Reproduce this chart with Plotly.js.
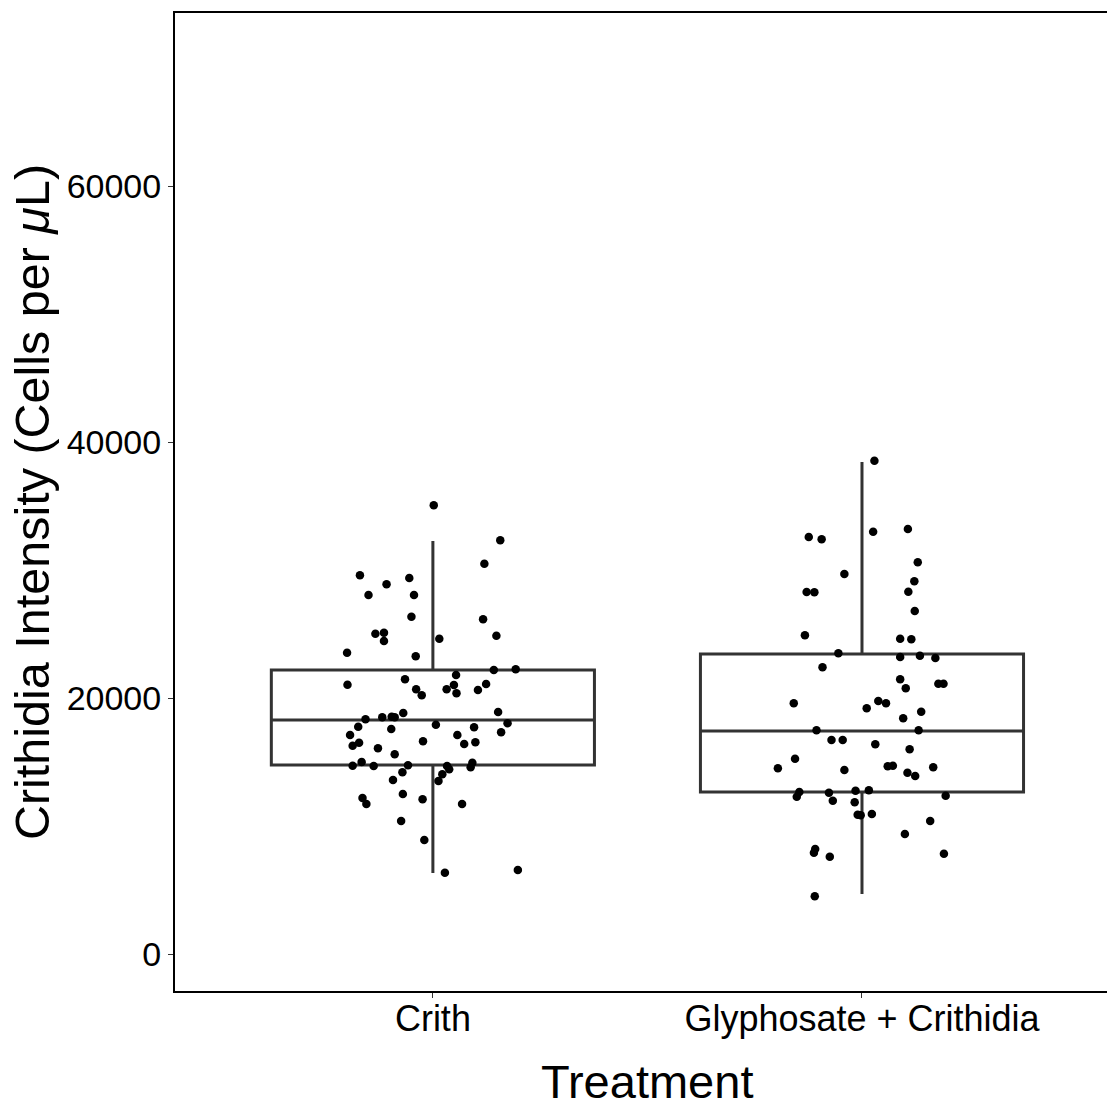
<!DOCTYPE html>
<html>
<head>
<meta charset="utf-8">
<script src="https://cdn.plot.ly/plotly-3.0.1.min.js"></script>
<style>html,body{margin:0;padding:0;background:#fff;overflow:hidden}#chart{width:1107px;height:1109px}</style>
</head>
<body>
<div id="chart"></div>
<script>
// Categories and tick labels
const categories = ["Crith", "Glyphosate + Crithidia"];
const categoryIndex = [1, 2];

// Box statistics (cells per µL)
const boxQ1 = [14766, 12656];
const boxMedian = [18281, 17422];
const boxQ3 = [22188, 23438];
const boxLower = [6328, 4688];
const boxUpper = [32266, 38438];

// Jittered observations: horizontal jitter offsets (category units) and values
const crithJitter = [0.002,0.157,0.120,-0.170,-0.055,-0.108,-0.150,-0.044,-0.050,0.117,-0.134,-0.114,-0.114,0.015,0.148,-0.200,-0.040,-0.065,0.054,0.142,0.193,-0.199,-0.039,-0.026,0.032,0.049,0.055,0.105,0.124,0.152,0.174,0.159,-0.069,-0.096,-0.089,-0.118,-0.157,-0.174,-0.097,0.007,0.096,0.057,-0.193,-0.172,-0.187,-0.023,0.073,0.099,-0.128,-0.089,-0.166,-0.187,-0.138,-0.058,-0.071,-0.093,0.033,0.038,0.022,0.013,0.092,0.088,-0.164,-0.155,-0.070,-0.024,0.068,-0.074,-0.020,0.028,0.198];
const crithValues = [35055,32320,30492,29586,29375,28883,28047,28047,26352,26148,25023,25102,24453,24633,24867,23539,23258,21461,21797,22188,22242,21039,20680,20211,20680,21016,20367,20625,21094,18906,18023,17320,18828,18539,18492,18492,18336,17758,17578,17914,17711,17109,17109,16508,16273,16617,16406,16539,16070,15602,15000,14711,14688,14742,14195,13594,14688,14430,14039,13516,14945,14586,12188,11719,12500,12086,11719,10391,8906,6352,6563];

const glyJitter = [0.029,0.026,0.107,-0.124,-0.094,0.130,-0.041,0.122,-0.129,-0.111,0.108,0.123,-0.133,0.089,0.115,-0.055,0.089,0.135,0.171,-0.092,0.089,0.102,0.178,0.190,-0.159,0.038,0.056,0.011,0.138,0.096,-0.106,0.132,-0.071,-0.045,0.031,0.111,-0.156,-0.196,-0.041,0.060,0.072,0.166,0.106,0.124,-0.146,-0.152,-0.077,-0.068,-0.015,0.016,-0.017,0.195,-0.010,-0.003,0.023,0.159,0.100,-0.109,-0.112,-0.075,0.191,-0.110];
const glyValues = [38539,32992,33203,32578,32398,30602,29688,29117,28281,28258,28305,26797,24898,24633,24586,23492,23203,23305,23125,22398,21461,20758,21117,21117,19586,19766,19586,19195,18930,18414,17477,17477,16719,16719,16383,15992,15258,14508,14375,14664,14711,14586,14164,13906,12656,12289,12602,11977,12758,12789,11852,12367,10883,10836,10938,10391,9375,8203,7914,7602,7836,4508];

const yTicks = [0, 20000, 40000, 60000];
const xTitle = 'Treatment';
const yTitle = 'Crithidia Intensity (Cells per <i>μ</i>L)';

const FONT = '"Liberation Sans", Arial, Helvetica, sans-serif';

const traces = [];
categoryIndex.forEach((ci, i) => {
  traces.push({
    type: 'box',
    x: [ci],
    q1: [boxQ1[i]],
    median: [boxMedian[i]],
    q3: [boxQ3[i]],
    lowerfence: [boxLower[i]],
    upperfence: [boxUpper[i]],
    width: 0.753,
    whiskerwidth: 0,
    boxpoints: false,
    fillcolor: 'rgba(255,255,255,0)',
    line: {color: '#333333', width: 3},
    showlegend: false,
    hoverinfo: 'skip'
  });
});

const pointSets = [[crithJitter, crithValues], [glyJitter, glyValues]];
pointSets.forEach((set, i) => {
  traces.push({
    type: 'scatter',
    mode: 'markers',
    x: set[0].map(o => categoryIndex[i] + o),
    y: set[1],
    marker: {color: '#000000', size: 8.5, line: {width: 0}},
    showlegend: false,
    hoverinfo: 'skip'
  });
});

const layout = {
  width: 1107,
  height: 1109,
  margin: {l: 175, r: 0, t: 13, b: 118},
  paper_bgcolor: '#ffffff',
  plot_bgcolor: '#ffffff',
  font: {family: FONT, color: '#000000'},
  showlegend: false,
  xaxis: {
    range: [0.399, 2.571],
    tickvals: categoryIndex,
    ticktext: categories,
    showgrid: false,
    zeroline: false,
    showline: true,
    linecolor: '#000000',
    linewidth: 2,
    mirror: true,
    ticks: 'outside',
    ticklen: 5,
    tickwidth: 1,
    tickcolor: '#333333',
    ticklabelstandoff: -10,
    tickfont: {family: FONT, size: 36, color: '#000000'}
  },
  yaxis: {
    range: [-2891, 73516],
    tickvals: yTicks,
    ticktext: yTicks.map(String),
    showgrid: false,
    zeroline: false,
    showline: true,
    linecolor: '#000000',
    linewidth: 2,
    ticks: 'outside',
    ticklen: 5,
    tickwidth: 1,
    tickcolor: '#333333',
    tickfont: {family: FONT, size: 34, color: '#000000'},
    title: {text: yTitle, font: {family: FONT, size: 48.5, color: '#000000'}, standoff: 2}
  },
  annotations: [{
    text: xTitle,
    xref: 'paper', yref: 'paper',
    x: 0.5064, y: -0.1207,
    xanchor: 'center', yanchor: 'bottom',
    borderpad: 0,
    showarrow: false,
    font: {family: FONT, size: 47, color: '#000000'}
  }]
};

Plotly.newPlot('chart', traces, layout, {displayModeBar: false, staticPlot: true});
</script>
</body>
</html>
